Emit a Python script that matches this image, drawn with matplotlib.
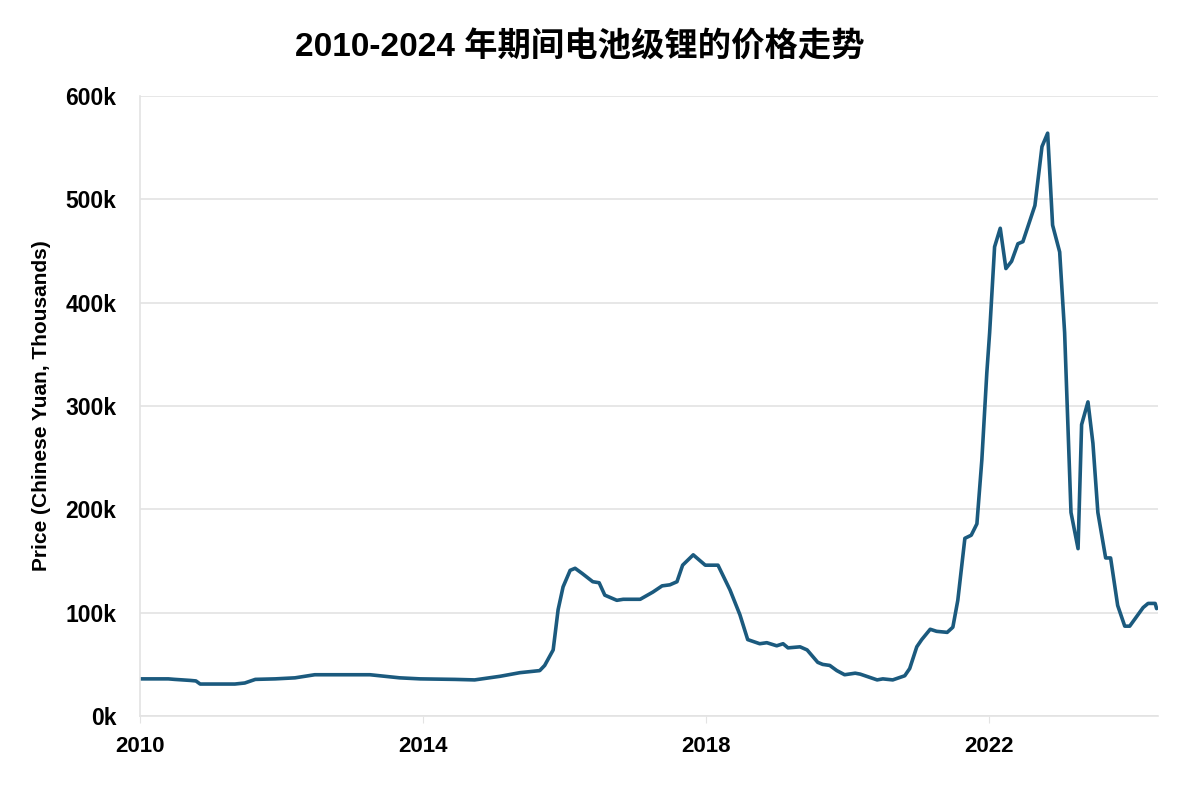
import matplotlib.pyplot as plt
from matplotlib.ticker import FuncFormatter

plt.rcParams['font.family'] = ['Liberation Sans', 'Noto Sans CJK SC', 'DejaVu Sans']

# price of battery-grade lithium (thousand yuan)
years = [2010.00, 2010.40, 2010.49, 2010.71, 2010.79, 2010.85, 2011.34, 2011.48,
         2011.63, 2011.91, 2012.19, 2012.47, 2013.25, 2013.46, 2013.67, 2013.96,
         2014.45, 2014.73, 2015.09, 2015.37, 2015.65, 2015.72, 2015.84, 2015.91,
         2015.98, 2016.08, 2016.15, 2016.25, 2016.40, 2016.49, 2016.57, 2016.74,
         2016.83, 2017.07, 2017.25, 2017.38, 2017.49, 2017.59, 2017.67, 2017.82,
         2017.99, 2018.17, 2018.34, 2018.48, 2018.59, 2018.76, 2018.86, 2019.00,
         2019.09, 2019.16, 2019.33, 2019.43, 2019.58, 2019.65, 2019.75, 2019.85,
         2019.96, 2020.11, 2020.18, 2020.42, 2020.50, 2020.64, 2020.81, 2020.88,
         2020.98, 2021.05, 2021.17, 2021.26, 2021.41, 2021.49, 2021.56, 2021.66,
         2021.75, 2021.83, 2021.90, 2021.97, 2022.01, 2022.08, 2022.16, 2022.24,
         2022.32, 2022.41, 2022.48, 2022.65, 2022.75, 2022.83, 2022.90, 2023.00,
         2023.07, 2023.16, 2023.26, 2023.31, 2023.40, 2023.47, 2023.54, 2023.65,
         2023.72, 2023.82, 2023.92, 2023.99, 2024.18, 2024.25, 2024.35, 2024.37]
prices = [36, 36, 35.5, 34.5, 34, 31, 31, 32,
          35.5, 36, 37, 40, 40, 38.5, 37, 36,
          35.5, 35, 38.5, 42, 44, 49, 64, 103,
          125, 141, 143, 138, 130, 129, 117, 112,
          113, 113, 120, 126, 127, 130, 146, 156,
          146, 146, 122, 98, 74, 70, 71, 68,
          70, 66, 67, 64, 52, 50, 49, 44,
          40, 41.5, 40.6, 35, 36, 35, 39, 46,
          67, 74, 84, 82, 81, 86, 112, 172,
          175, 186, 248, 332, 371, 454, 472, 433,
          440, 457, 459, 494, 551, 564, 475, 449,
          371, 197, 162, 282, 304, 264, 197, 153,
          153, 107, 87, 87, 105, 109, 109, 104]
prices = [p * 1000 for p in prices]

xticks = [2010, 2014, 2018, 2022]
yticks = [0, 100000, 200000, 300000, 400000, 500000, 600000]

fig = plt.figure(figsize=(12, 7.93), dpi=100)
ax = fig.add_axes([0.1167, 0.097, 0.965 - 0.1167, 0.879 - 0.097])

ax.plot(years, prices, color='#1b5a7e', linewidth=2.6, solid_joinstyle='round',
        solid_capstyle='round')

ax.set_xlim(2010, 2024.39)
ax.set_ylim(0, 600000)
ax.set_xticks(xticks)
ax.set_yticks(yticks)
ax.yaxis.set_major_formatter(FuncFormatter(lambda v, p: f"{int(v / 1000)}k"))

ax.grid(axis='y', color='#e3e3e3', linewidth=1.2)
ax.set_axisbelow(True)
for s in ['top', 'right']:
    ax.spines[s].set_visible(False)
ax.spines['left'].set_color('#e3e3e3')
ax.spines['bottom'].set_color('#e3e3e3')
ax.spines['left'].set_linewidth(1.2)
ax.spines['bottom'].set_linewidth(1.2)

ax.tick_params(axis='y', length=0, pad=17, labelsize=16.5)
ax.tick_params(axis='x', length=5, color='#e3e3e3', pad=9, labelsize=16)
for lab in ax.get_xticklabels() + ax.get_yticklabels():
    lab.set_fontweight('bold')

ax.set_ylabel('Price (Chinese Yuan, Thousands)', fontsize=15, fontweight='bold', labelpad=10)

fig.text(0.483, 0.94, '2010-2024 年期间电池级锂的价格走势', ha='center', va='center',
         fontsize=24, fontweight='bold')

plt.savefig('out.png', dpi=100)
